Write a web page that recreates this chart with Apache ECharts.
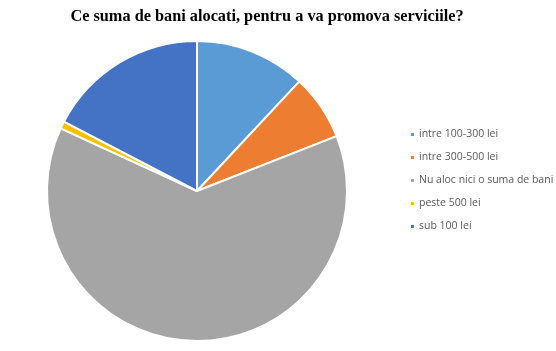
<!DOCTYPE html>
<html><head><meta charset="utf-8">
<script src="https://cdn.jsdelivr.net/npm/echarts@6/dist/echarts.min.js"></script>
<style>html,body{margin:0;padding:0;background:#fff}#c{width:556px;height:351px}</style>
</head><body><div id="c"></div>
<script>
const categories = ['intre 100-300 lei','intre 300-500 lei','Nu aloc nici o suma de bani','peste 500 lei','sub 100 lei'];
const values = [12, 7.1, 63, 0.8, 17.4];
const colors = ['#5B9BD5','#ED7D31','#A5A5A5','#FFC000','#4472C4'];
const chart = echarts.init(document.getElementById('c'));
chart.setOption({
  animation:false,
  title:{text:'Ce suma de bani alocati, pentru a va promova serviciile?',left:262,textAlign:'center',top:4,
    textStyle:{fontFamily:'Liberation Serif',fontWeight:'bold',fontSize:16.3,color:'#000'}},
  legend:{orient:'vertical',left:404,top:124,itemWidth:5,itemHeight:5,itemGap:12,icon:'rect',
    textStyle:{fontFamily:'Open Sans',fontSize:10.5,color:'#595959',padding:[0,0,0,-1]}},
  series:[{type:'pie',center:[197,191],radius:[0,150],startAngle:90,clockwise:true,
    label:{show:false},labelLine:{show:false},
    itemStyle:{borderColor:'#fff',borderWidth:2},
    data:categories.map((n,i)=>({name:n,value:values[i],itemStyle:{color:colors[i]}}))}]
});
</script></body></html>
